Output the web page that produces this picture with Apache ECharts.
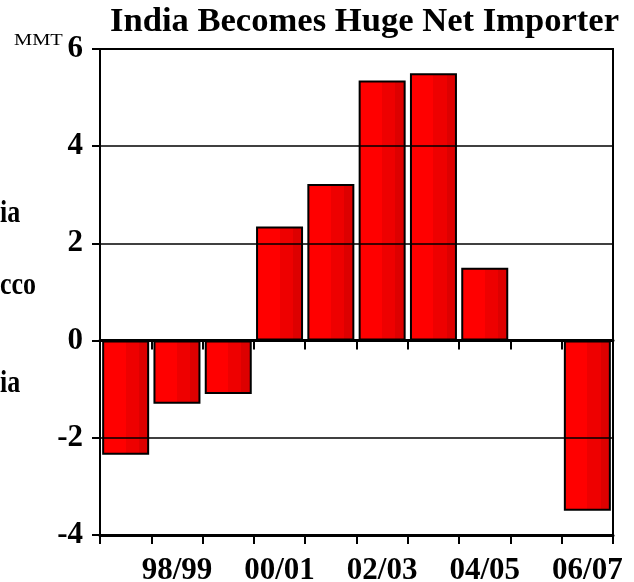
<!DOCTYPE html>
<html>
<head>
<meta charset="utf-8">
<script src="https://cdn.jsdelivr.net/npm/echarts@6/dist/echarts.min.js"></script>
<style>html,body{margin:0;padding:0;background:#fff}#c{width:634px;height:582px}</style>
</head>
<body>
<div id="c"></div>
<script>
const categories = ['97/98','98/99','99/00','00/01','01/02','02/03','03/04','04/05','05/06','06/07'];
const netExports = [-2.35, -1.3, -1.1, 2.35, 3.22, 5.35, 5.5, 1.5, 0, -3.5];
const yTicks = {min: -4, max: 6, interval: 2};
const titleText = 'India Becomes Huge Net Importer';
const unitText = 'MMT';
const sideFragments = ['ia', 'cco', 'ia'];

const serif = '"Liberation Serif", "Times New Roman", serif';
const chart = echarts.init(document.getElementById('c'), null, {renderer: 'canvas'});
const barFill = {
  type: 'linear', x: 0, y: 0, x2: 1, y2: 0,
  colorStops: [
    {offset: 0, color: '#ff0000'}, {offset: 0.5, color: '#ff0000'},
    {offset: 0.5, color: '#ee0000'}, {offset: 0.78, color: '#ee0000'},
    {offset: 0.78, color: '#dd0000'}, {offset: 1, color: '#dd0000'}
  ]
};
const fragTop = [198, 270, 368];
chart.setOption({
  animation: false,
  backgroundColor: '#fff',
  title: {
    text: titleText, left: 105, top: 0,
    textStyle: {fontFamily: serif, fontWeight: 'bold', fontSize: 34.6, color: '#000'}
  },
  graphic: [
    {type: 'text', x: 14, y: 32, scaleX: 1.2, style: {text: unitText, font: '17px ' + serif, fill: '#000', verticalAlign: 'top'}}
  ].concat(sideFragments.map((t, i) => ({
    type: 'text', x: 0, y: fragTop[i], scaleY: 1.2,
    style: {text: t, font: 'bold 26px ' + serif, fill: '#000', verticalAlign: 'top'}
  }))),
  grid: {left: 100, right: 21, top: 49, bottom: 47, show: true, borderColor: '#000', borderWidth: 2, containLabel: false, outerBoundsMode: 'none'},
  xAxis: [
    {
      type: 'category', data: categories, position: 'bottom', z: 5,
      axisLine: {onZero: false, lineStyle: {color: '#000', width: 3}},
      axisTick: {show: true, interval: 0, length: 9, lineStyle: {color: '#000', width: 2}},
      axisLabel: {interval: (i) => i % 2 === 1, fontFamily: serif, fontWeight: 'bold', fontSize: 31, color: '#000', margin: 20},
      splitLine: {show: false}
    },
    {
      type: 'category', data: categories, position: 'top', z: 5,
      axisLine: {onZero: true, lineStyle: {color: '#000', width: 3}},
      axisTick: {show: true, inside: true, interval: 0, length: 9, lineStyle: {color: '#000', width: 2}},
      axisLabel: {show: false},
      splitLine: {show: false}
    }
  ],
  yAxis: {
    type: 'value', min: yTicks.min, max: yTicks.max, interval: yTicks.interval, z: 5,
    axisLine: {show: true, onZero: false, lineStyle: {color: '#000', width: 2}},
    axisTick: {show: true, length: 8, lineStyle: {color: '#000', width: 2}},
    axisLabel: {fontFamily: serif, fontWeight: 'bold', fontSize: 31, color: '#000', margin: 17},
    splitLine: {show: true, lineStyle: {color: '#000', width: 1.5}}
  },
  series: [{
    type: 'bar', data: netExports, xAxisIndex: 0, barWidth: 47,
    itemStyle: {color: barFill, borderColor: '#000', borderWidth: 2}
  }]
});
</script>
</body>
</html>
